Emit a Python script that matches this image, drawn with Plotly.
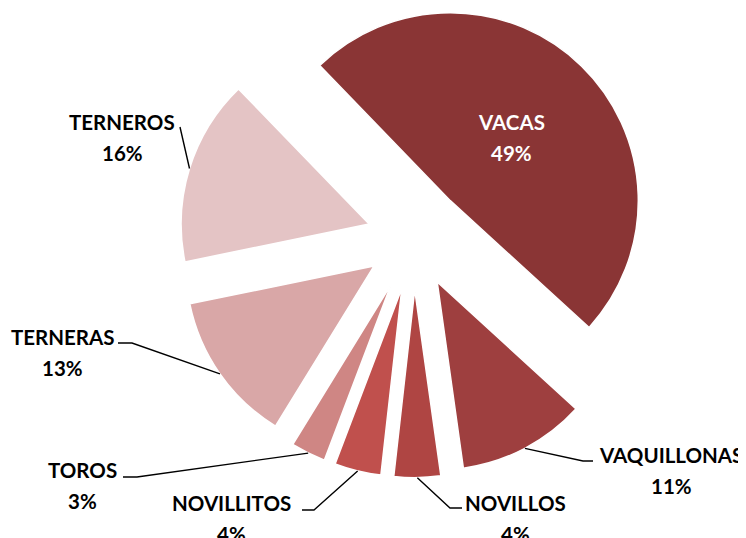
import math
import plotly.graph_objects as go

# ---- data ----
categories = ["VACAS", "VAQUILLONAS", "NOVILLOS", "NOVILLITOS", "TOROS", "TERNERAS", "TERNEROS"]
values = [49, 11, 4, 4, 3, 13, 16]

# ---- style ----
colors = ["#8A3535", "#9E3F3F", "#AF4543", "#C0504D", "#CF8684", "#D9A7A7", "#E4C4C5"]
explode = [0.277, 0.265, 0.275, 0.275, 0.275, 0.26, 0.25]   # fraction of radius
rotation = -44

W, H = 746, 538
PAGE_OFF = 8               # default body margin of the html page
CX, CY = 414, 238          # pie centre (page px)
R = 188                    # pie radius (px)

FONT = "Lato, Carlito, Calibri, sans-serif"
FS = 20.5
LINE_GAP = 31
# outside label layout (page px): name-line centre, leader elbow, leader end near text
label_layout = {
    "TERNEROS":    dict(text=(122, 122), elbow=(180, 127), end=(180, 127)),
    "TERNERAS":    dict(text=(63, 337),  elbow=(132, 343), end=(118, 343)),
    "TOROS":       dict(text=(82, 470),  elbow=(137, 477), end=(123, 477)),
    "NOVILLITOS":  dict(text=(232, 503), elbow=(314, 510), end=(302, 510)),
    "NOVILLOS":    dict(text=(515, 503), elbow=(450, 508), end=(462, 508)),
    "VAQUILLONAS": dict(text=(671, 455), elbow=(583, 461), end=(593, 461)),
}


def px(x):
    return (x - PAGE_OFF) / W


def py(y):
    return 1 - (y - PAGE_OFF) / H


total = sum(values)
fig = go.Figure()
annotations = []
shapes = []
cum = 0
for i, (name, v, p) in enumerate(zip(categories, values, explode)):
    mid_cw = rotation + (cum + v / 2) / total * 360
    cum += v
    th = math.radians(90 - mid_cw)
    ux, uy = math.cos(th), -math.sin(th)
    # exploded slice: its own pie centred at the displaced apex
    apx, apy = CX + p * R * ux, CY + p * R * uy
    fig.add_trace(go.Pie(
        labels=categories,
        values=values,
        sort=False,
        direction="clockwise",
        rotation=rotation,
        marker=dict(
            colors=[c if j == i else "rgba(0,0,0,0)" for j, c in enumerate(colors)],
            line=dict(color="white", width=[1.5 if j == i else 0 for j in range(len(values))]),
        ),
        textinfo="none",
        hoverinfo="label+percent",
        showlegend=False,
        domain=dict(x=[px(apx - R), px(apx + R)], y=[py(apy + R), py(apy - R)]),
    ))
    pct = f"{round(v / total * 100)}%"
    if name in label_layout:
        lay = label_layout[name]
        ex, ey = apx + R * ux, apy + R * uy
        (tx, ty), (bx, by), (dx, dy) = lay["text"], lay["elbow"], lay["end"]
        shapes.append(dict(
            type="path", xref="paper", yref="paper",
            path=f"M {px(ex)} {py(ey)} L {px(bx)} {py(by)} L {px(dx)} {py(dy)}",
            line=dict(color="black", width=1.4),
        ))
        for txt, yy in ((name, ty), (pct, ty + LINE_GAP)):
            annotations.append(dict(
                x=px(tx), y=py(yy), xref="paper", yref="paper",
                xanchor="center", yanchor="middle",
                text=f"<b>{txt}</b>", showarrow=False,
                font=dict(family=FONT, size=FS, color="black"),
            ))
    else:
        lx, ly = apx + 0.47 * R * ux, apy + 0.47 * R * uy
        for txt, off in ((name, -LINE_GAP / 2), (pct, LINE_GAP / 2)):
            annotations.append(dict(
                x=px(lx), y=py(ly + off), xref="paper", yref="paper",
                xanchor="center", yanchor="middle",
                text=f"<b>{txt}</b>", showarrow=False,
                font=dict(family=FONT, size=FS, color="white"),
            ))

fig.update_layout(
    width=W, height=H,
    margin=dict(l=0, r=0, t=0, b=0),
    paper_bgcolor="white", plot_bgcolor="white",
    annotations=annotations,
    shapes=shapes,
)

fig.write_html("out.html")
